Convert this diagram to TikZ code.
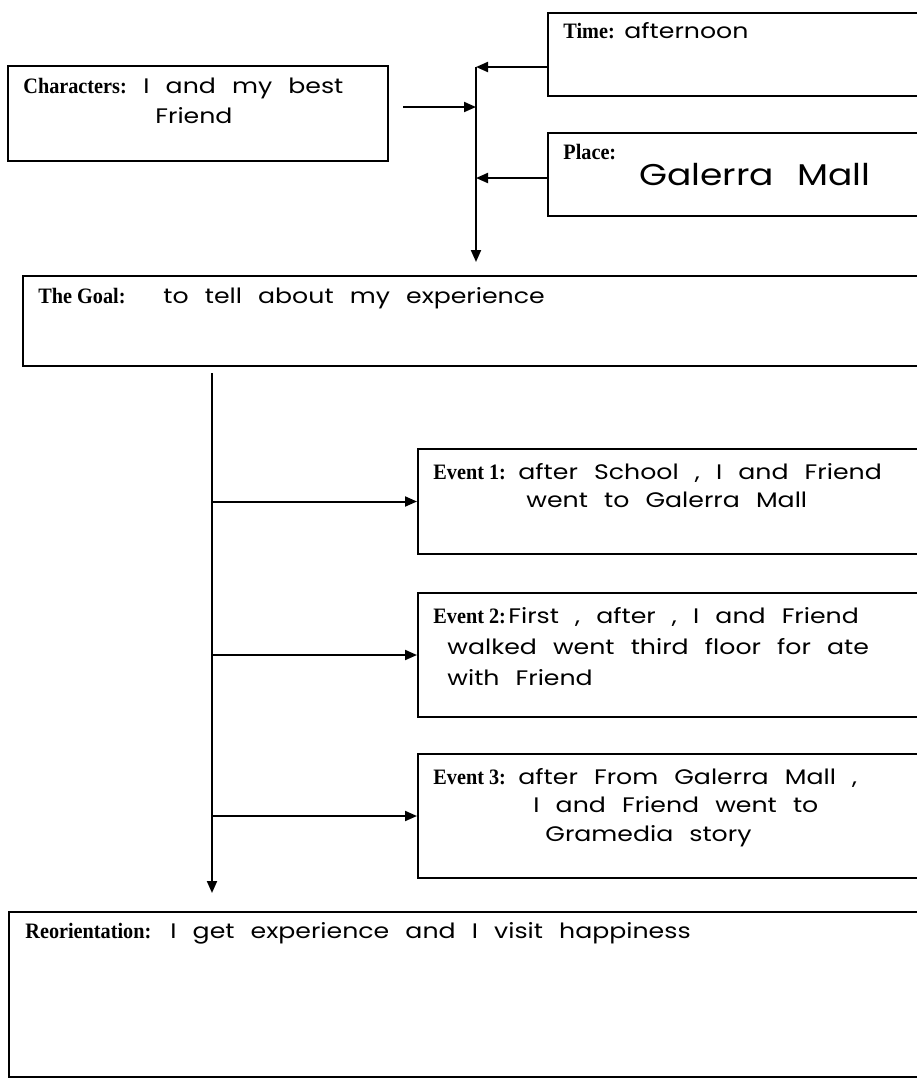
\documentclass[tikz,border=0pt]{standalone}
\usepackage{fontspec}
\usetikzlibrary{arrows}
\usetikzlibrary{arrows.meta}
\usetikzlibrary{calc}
\usepackage{xcolor}
\setmainfont{Liberation Serif}
\newfontfamily\labelfont[FakeStretch=0.92]{Liberation Serif}
\newfontfamily\handfont[FakeStretch=1.2,WordSpace=2.4]{Poppins}

\tikzset{
  box/.style={draw, line width=1pt, anchor=north west, inner sep=0pt},
  lbl/.style={anchor=base west, inner sep=0pt, font=\fontsize{11}{13}\labelfont\bfseries},
  hand/.style={anchor=base west, inner sep=0pt, font=\fontsize{10.5}{12}\handfont},
  link/.style={line width=1pt}
}

\begin{document}
\begin{tikzpicture}[x=0.5pt, y=-0.5pt, >={Triangle[length=6pt,width=5pt]}]

        \useasboundingbox (0,0) rectangle (917,1078);
        \clip (0,0) rectangle (917,1078);

        % Top boxes
        \node[box, minimum width=190pt, minimum height=47.5pt] (chars) at (7,65) {};
        \node[box, minimum width=200pt, minimum height=41.5pt] (time) at (547,12) {};
        \node[box, minimum width=200pt, minimum height=41.5pt] (place) at (547,132) {};

        \node[lbl] (charsL) at ($(chars.north west)+(16,28)$) {Characters:};
        \node[hand] (charsA) at ($(chars.north west)+(136,28)$) {I and my best};
        \node[hand] (charsB) at ($(chars.north west)+(148,58)$) {Friend};
        \node[lbl] (timeL) at ($(time.north west)+(16,26)$) {Time:};
        \node[hand] (timeA) at ($(time.north west)+(77,26)$) {afternoon};
        \node[lbl] (placeL) at ($(place.north west)+(16,27)$) {Place:};
        \node[hand, font=\fontsize{15}{18}\handfont] (placeA) at ($(place.north west)+(92,53)$) {Galerra Mall};

        % Upper junction
        \coordinate (jt) at (476,67);
        \coordinate (jc) at (476,107);
        \coordinate (jp) at (476,178);
        \coordinate (jb) at (476,262);
        \draw[link,->] ($(chars.east |- jc)+(14,0)$) -- (jc);
        \draw[link,->] (time.west |- jt) -- (jt);
        \draw[link,->] (place.west |- jp) -- (jp);
        \draw[link,->] (jt) -- (jb);

        % Goal
        \node[box, minimum width=475pt, minimum height=45pt] (goal) at (22,275) {};
        \node[lbl] (goalL) at ($(goal.north west)+(16,28)$) {The Goal:};
        \node[hand] (goalA) at ($(goal.north west)+(141,28)$) {to tell about my experience};

        % Events
        \node[box, minimum width=275pt, minimum height=52.5pt] (ev1) at (417,448) {};
        \node[box, minimum width=275pt, minimum height=62pt] (ev2) at (417,592) {};
        \node[box, minimum width=275pt, minimum height=62pt] (ev3) at (417,753) {};

        \foreach \n in {1,2,3}
        {
          \node[lbl] (ev\n L) at ($(ev\n.north west)+(16,31)$) {Event \n:};
        }

        \node[hand] (ev1A) at ($(ev1.north west)+(101,31)$) {after School , I and Friend};
        \node[hand] (ev1B) at ($(ev1.north west)+(109,59)$) {went to Galerra Mall};
        \node[hand] (ev2A) at ($(ev2.north west)+(91,31)$) {First , after , I and Friend};
        \node[hand] (ev2B) at ($(ev2.north west)+(30,62)$) {walked went third floor for ate};
        \node[hand] (ev2C) at ($(ev2.north west)+(30,93)$) {with Friend};
        \node[hand] (ev3A) at ($(ev3.north west)+(101,31)$) {after From Galerra Mall ,};
        \node[hand] (ev3B) at ($(ev3.north west)+(116,59)$) {I and Friend went to};
        \node[hand] (ev3C) at ($(ev3.north west)+(128,88)$) {Gramedia story};

        % Lower spine
        \coordinate (s0) at (212,373);
        \coordinate (s1) at (212,893);
        \draw[link,->] (s0) -- (s1);
        \foreach \n in {1,2,3}
        {
          \draw[link,->] (s0 |- ev\n.west) -- (ev\n.west);
        }

        % Reorientation
        \node[box, minimum width=475pt, minimum height=82.5pt] (reor) at (8,911) {};
        \node[lbl] (reorL) at ($(reor.north west)+(17,27)$) {Reorientation:};
        \node[hand] (reorA) at ($(reor.north west)+(162,27)$) {I get experience and I visit happiness};

    \end{tikzpicture}
\end{document}
